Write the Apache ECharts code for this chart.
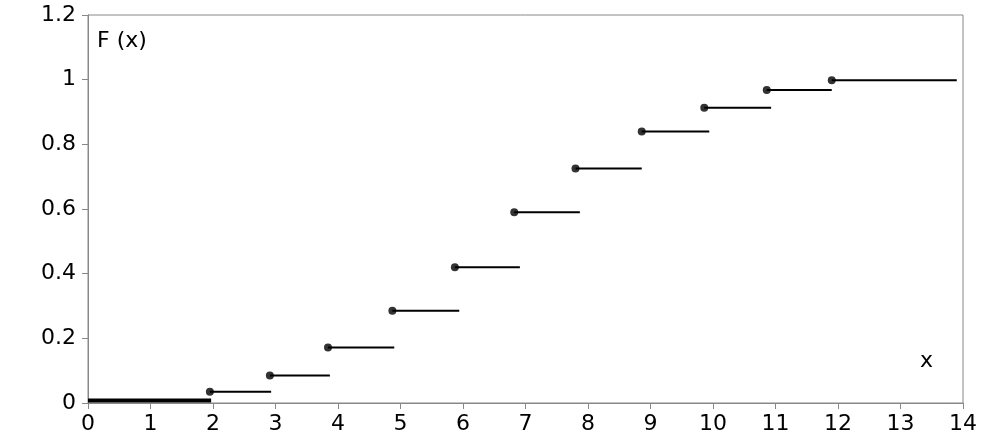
<!DOCTYPE html>
<html><head><meta charset="utf-8">
<script src="https://cdn.jsdelivr.net/npm/echarts@6/dist/echarts.min.js"></script>
<style>html,body{margin:0;padding:0;background:#fff}#c{width:990px;height:447px}</style>
</head><body><div id="c"></div>
<script>
const stepX = [1.95, 2.91, 3.84, 4.87, 5.87, 6.82, 7.8, 8.86, 9.86, 10.86, 11.9];
const stepEnd = [2.93, 3.87, 4.9, 5.94, 6.91, 7.87, 8.86, 9.94, 10.93, 11.9, 13.9];
const stepY = [0.035, 0.085, 0.172, 0.285, 0.42, 0.59, 0.725, 0.84, 0.913, 0.968, 0.998];
const zeroSeg = [[0, 0.008], [1.97, 0.008]];

const segData = [];
stepX.forEach((x, i) => { segData.push([x, stepY[i]], [stepEnd[i], stepY[i]], '-'); });
const dots = stepX.map((x, i) => [x, stepY[i]]);
const font = 'DejaVu Sans';
const chart = echarts.init(document.getElementById('c'));
chart.setOption({
  animation: false,
  grid: { left: 88, right: 27, top: 15, bottom: 44, show: true, borderColor: '#888', borderWidth: 1 },
  xAxis: { type: 'value', min: 0, max: 14, interval: 1,
    axisLine: { lineStyle: { color: '#888' } }, axisTick: { show: true, length: 6, lineStyle: { color: '#888' } },
    splitLine: { show: false },
    axisLabel: { color: '#000', fontSize: 22, fontFamily: font, margin: 10 } },
  yAxis: { type: 'value', min: 0, max: 1.2, interval: 0.2,
    axisLine: { show: true, lineStyle: { color: '#888' } }, axisTick: { show: true, length: 6, lineStyle: { color: '#888' } },
    splitLine: { show: false },
    axisLabel: { color: '#000', fontSize: 22, fontFamily: font, margin: 12 } },
  graphic: [
    { type: 'text', left: 97, top: 30, style: { text: 'F (x)', fontSize: 22, fontFamily: font, fill: '#000' } },
    { type: 'text', left: 920, top: 350, style: { text: 'x', fontSize: 22, fontFamily: font, fill: '#000' } }
  ],
  series: [
    { type: 'line', data: zeroSeg, symbol: 'none', lineStyle: { color: '#000', width: 4 } },
    { type: 'line', data: segData, symbol: 'none', connectNulls: false, lineStyle: { color: '#000', width: 2 } },
    { type: 'scatter', data: dots, symbolSize: 8, itemStyle: { color: '#000' } }
  ]
});
</script></body></html>
